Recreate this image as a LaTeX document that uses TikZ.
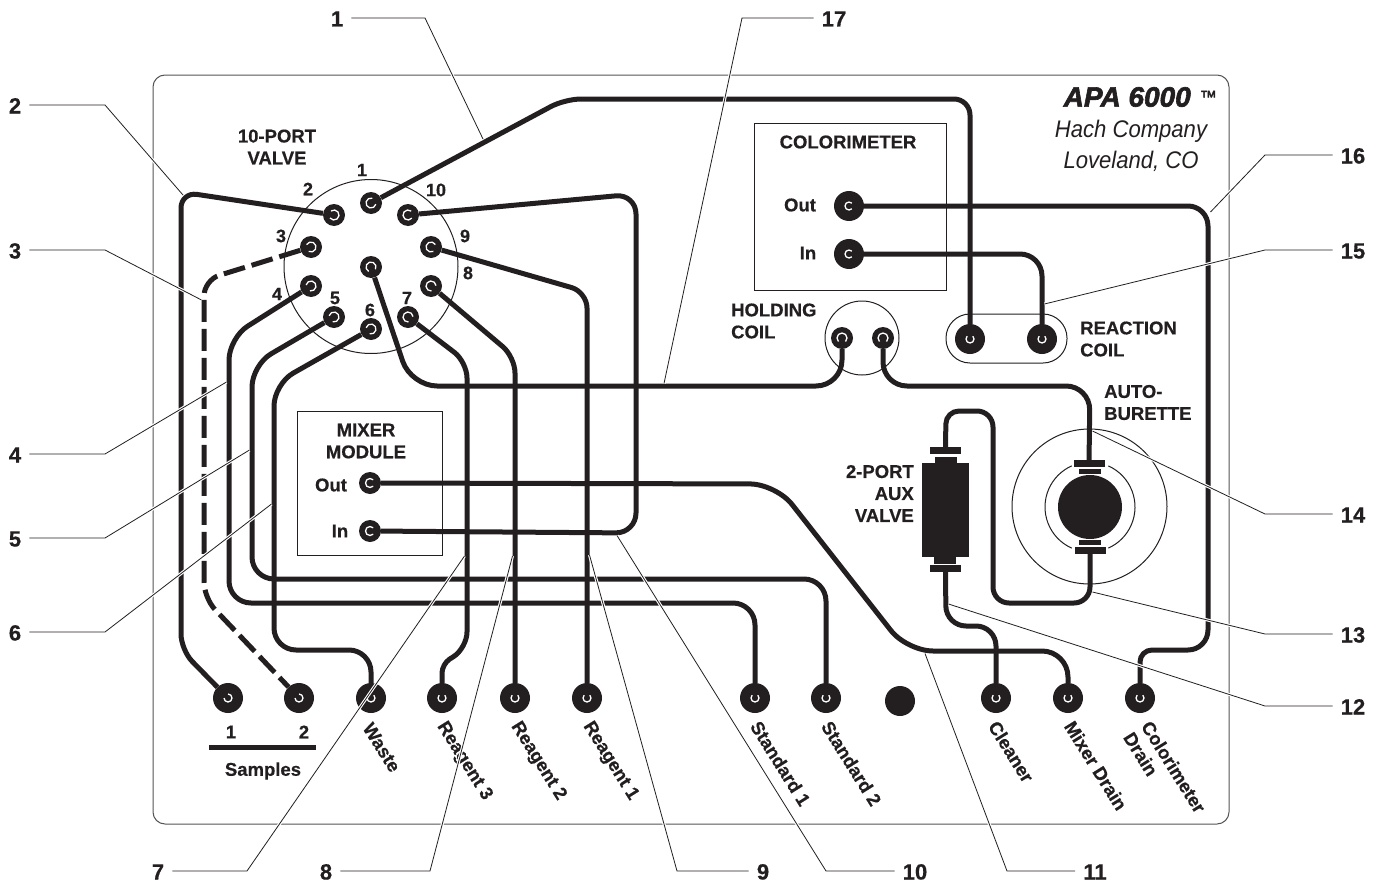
\documentclass[tikz,border=0pt]{standalone}
\usepackage{fontspec}
\setmainfont[BoldFeatures={FakeBold=0.5}]{Liberation Sans}
\newfontfamily\apafont[FakeBold=2.2]{Liberation Sans}
\definecolor{ink}{HTML}{231F20}
\definecolor{panelgray}{HTML}{555555}
\tikzset{
	tube/.style = {draw = ink, line width = 5, rounded corners = 16},
	leader/.style = {draw = ink, line width = 0.8, preaction = {draw = white, line width = 3}},
	thinline/.style = {draw = ink, line width = 1},
	port/.style = {circle, fill = ink, inner sep = 0, minimum size = 30},
	smallport/.style = {circle, fill = ink, inner sep = 0, minimum size = 22},
	hole/.style = {draw = white, line width = 1.3},
	capbar/.style = {fill = ink, inner sep = 0, minimum width = 31, minimum height = 7},
	capstub/.style = {fill = ink, inner sep = 0, minimum width = 22, minimum height = 5},
	txt/.style = {text = ink, font = \fontsize{18.5}{22}\selectfont\bfseries, inner sep = 0},
	portnum/.style = {text = ink, font = \fontsize{18}{20}\selectfont\bfseries, inner sep = 0},
	callnum/.style = {text = ink, font = \fontsize{22}{24}\selectfont\bfseries, inner xsep = 8, inner ysep = 0, text height = 17, text depth = 0},
	inlet/.style = {text = ink, font = \fontsize{18.5}{21}\selectfont\bfseries, inner sep = 0, rotate = -58, anchor = north west, align = left}
}

\begin{document}
\begin{tikzpicture}[x=1pt, y=-1pt]
	\useasboundingbox (0,0) rectangle (1385,886);
	% panel and boxes
	\node at (691,449.5) (panel) [draw = panelgray, line width = 1, rounded corners = 12, minimum width = 1076, minimum height = 749] {};
	\node at (850,206.5) (colorbox) [thinline, draw, minimum width = 192, minimum height = 167] {};
	\node at (369.5,483) (mixerbox) [thinline, draw, minimum width = 145, minimum height = 144] {};
	\node at (371,266.5) (valve) [thinline, draw, circle, minimum size = 174] {};
	\node at (862,338) (holding) [thinline, draw, circle, minimum size = 74] {};
	\node at (1006.5,338.5) (reaction) [thinline, draw, rounded corners = 24, minimum width = 121, minimum height = 49] {};
	\node at (1089.5,506.5) (burette) [thinline, draw, circle, minimum size = 155] {};
	\draw [thinline] (1090,507) ++(-66:45) arc [start angle = -66, end angle = 66, radius = 45];
	\draw [thinline] (1090,507) ++(114:45) arc [start angle = 114, end angle = 246, radius = 45];
	\node at (1090,507) (piston) [circle, fill = ink, minimum size = 64, inner sep = 0] {};
	% burette and aux valve parts
	\node at (1089,463.5) (butop) [capbar] {};
	\node at (1090,471) (bustubtop) [capstub] {};
	\node at (1090,542.5) (bustubbot) [capstub] {};
	\node at (1090,550) (bubot) [capbar] {};
	\node at (945.5,450.5) (auxtop) [capbar] {};
	\node at (945.5,460) (auxstubtop) [capstub, minimum height = 7] {};
	\node at (945.5,510) (auxbody) [fill = ink, inner sep = 0, minimum width = 47, minimum height = 94] {};
	\node at (945,560) (auxstubbot) [capstub, minimum height = 7] {};
	\node at (945.5,568.5) (auxbot) [capbar] {};
	% ports
	\foreach \name/\x/\y in {v1/371/203, v2/334/215, v3/311/247, v4/311/286, v5/334/317, v6/371/329, v7/408/317, v8/431/286, v9/431/247, v10/408/215, v0/371/267, hc1/842/338, hc2/883/338, mout/370/483, min/370/531}
	\node at (\x,\y) (\name) [smallport] {};
	\foreach \name/\x/\y in {rc1/970/339, rc2/1042/339, cout/849/206, cin/849/254, s1/228/698, s2/299/698, waste/371/698, r3/442/698, r2/515/698, r1/587/698, std1/755/698, std2/826/698, blank/900/701, clean/996/698, mdrain/1068/698, cdrain/1140/698}
	\node at (\x,\y) (\name) [port] {};
	% tubing
	\draw [tube] (v1) -- (565,99) -- (970,99) -- (rc1);
	\draw [tube] (v2) -- (181,192) -- (181,650) -- (s1);
	\draw [tube, dash pattern = on 22 off 7] (v3) -- (204,280) -- (204,598) -- (s2);
	\draw [tube, rounded corners = 22] (v4) -- (229,338) -- (229,603) -- (755,603) -- (std1);
	\draw [tube, rounded corners = 22] (v5) -- (252,365) -- (252,579) -- (826,579) -- (std2);
	\draw [tube, rounded corners = 22] (v6) -- (274,384) -- (274,650) -- (371,650) -- (waste);
	\draw [tube] (v7) -- (467,362) -- (467,648) [rounded corners = 9] -- (442,664) -- (r3);
	\draw [tube] (v8) -- (515,357) -- (r2);
	\draw [tube] (v9) -- (587,292) -- (r1);
	\draw [tube, rounded corners = 20] (v10) -- (636,194) -- (636,533) -- (min);
	\draw [tube, rounded corners = 26] (v0) -- (411,386) -- (842,386) -- (hc1);
	\draw [tube, rounded corners = 24] (hc2) -- (883,386) -- (1090,386) -- (butop);
	\draw [tube] (bubot) -- (1090,603) -- (993,603) -- (993,411) [rounded corners = 13] -- (946,411) -- (auxtop);
	\draw [tube, rounded corners = 20] (auxbot) -- (946,626) -- (996,626) -- (clean);
	\draw [tube, rounded corners = 26] (mout) -- (776,484) -- (907,651) -- (1068,651) -- (mdrain);
	\draw [tube, rounded corners = 20] (cout) -- (1208,206) -- (1208,650) [rounded corners = 12] -- (1140,650) -- (cdrain);
	\draw [tube, rounded corners = 22] (cin) -- (1042,254) -- (rc2);
	% little white openings in the ports
	\foreach \name/\a/\r in {v1/-30/5, v2/188/5, v3/163/5, v4/147/5, v5/150/5, v6/150/5, v7/40/5, v8/40/5, v9/16/5, v10/-6/5, v0/72/5, hc1/90/5, hc2/90/5, mout/0/4.5, min/0/4.5, rc1/-90/4, rc2/-90/4, cout/0/4, cin/0/4, s1/-135/4, s2/-135/4, waste/-90/4, r3/-90/4, r2/-90/4, r1/-90/4, std1/-90/4, std2/-90/4, clean/-90/4, mdrain/-90/4, cdrain/-90/4}
	\draw [hole] (\name.center) ++(\a+45:\r) arc [start angle = \a+45, delta angle = 270, radius = \r];
	% valve numbers
	\foreach \n/\x/\y in {1/362/170, 2/308/189, 3/281/236, 4/277/294, 5/335/298, 6/370/310, 7/407/298, 8/468/273, 9/465/236, 10/436/190}
	\node at (\x,\y) (pn\n) [portnum] {\n};
	% text on the panel
	\node at (277,147) (valvelabel) [txt, align = center] {10-PORT\\VALVE};
	\node at (848,142) (colorlabel) [txt] {COLORIMETER};
	\node at (800,205) (outlabel) [txt] {Out};
	\node at (808,253) (inlabel) [txt] {In};
	\node at (731,321) (holdinglabel) [txt, anchor = west, align = left] {HOLDING\\COIL};
	\node at (1080,339) (reactionlabel) [txt, anchor = west, align = left] {REACTION\\COIL};
	\node at (1104,402.5) (burettelabel) [txt, anchor = west, align = left] {AUTO-\\BURETTE};
	\node at (914,493.5) (auxlabel) [txt, anchor = east, align = right] {2-PORT\\AUX\\VALVE};
	\node at (366,441) (mixerlabel) [txt, align = center] {MIXER\\MODULE};
	\node at (331,485) (moutlabel) [txt] {Out};
	\node at (340,531) (minlabel) [txt] {In};
	\node at (231,732) (samp1) [txt] {1};
	\node at (304,732) (samp2) [txt] {2};
	\node at (262.5,747.5) (sampbar) [fill = ink, inner sep = 0, minimum width = 107, minimum height = 5] {};
	\node at (263,769) (samplabel) [txt, yshift = -2] {Samples};
	\node at (1217,97) (apa) [text = ink, anchor = east, inner sep = 0, font = \fontsize{28}{28}\selectfont\apafont\bfseries\itshape] {APA 6000\hspace{9pt}\raisebox{4pt}{\fontsize{17}{17}\selectfont\mdseries ™}};
	\node at (1131,129) (hach) [text = ink, inner sep = 0, font = \fontsize{24}{26}\selectfont\itshape, xscale = 0.92, yshift = -2] {Hach Company};
	\node at (1131,160) (loveland) [text = ink, inner sep = 0, font = \fontsize{24}{26}\selectfont\itshape, xscale = 0.92, yshift = -1] {Loveland, CO};
	% names of the inlets
	\node at (373,721) (wastelabel) [inlet] {Waste};
	\node at (448,719) (r3label) [inlet] {Reagent 3};
	\node at (522,719) (r2label) [inlet] {Reagent 2};
	\node at (594,719) (r1label) [inlet] {Reagent 1};
	\node at (761,719) (std1label) [inlet] {Standard 1};
	\node at (832,719) (std2label) [inlet] {Standard 2};
	\node at (999,719) (cleanlabel) [inlet] {Cleaner};
	\node at (1075,719) (mdrainlabel) [inlet] {Mixer Drain};
	\node at (1152,719) (cdrainlabel) [inlet] {Colorimeter\\Drain};
	% numbered leaders
	\foreach \n/\x/\y/\kx/\ex/\ey in {1/337/18/425/483/139, 2/15/105/105/183/195, 3/15/250/105/201.5/300, 4/15/454/105/226.5/382, 5/15/538/105/249.5/450, 6/15/632/105/271.5/504, 7/158/871/247/464.5/556, 8/326/871/430/512.5/556, 9/763/871/677/589.5/555, 10/915/871/826/617/535.5, 11/1095/871/1007/925/653.5, 12/1353/706/1265/948.5/604, 13/1353/634/1265/1092.5/592, 14/1353/514/1265/1092.5/431, 15/1353/250/1265/1044.5/304, 16/1353/155/1265/1210.5/212, 17/834/18/742/664/383.5} {
	\node at (\x,\y) (n\n) [callnum] {\n};
	\coordinate (e\n) at (\ex,\ey);
	\draw [leader] (n\n) -- (\kx,\y) -- (e\n);
	}
\end{tikzpicture}
\end{document}
